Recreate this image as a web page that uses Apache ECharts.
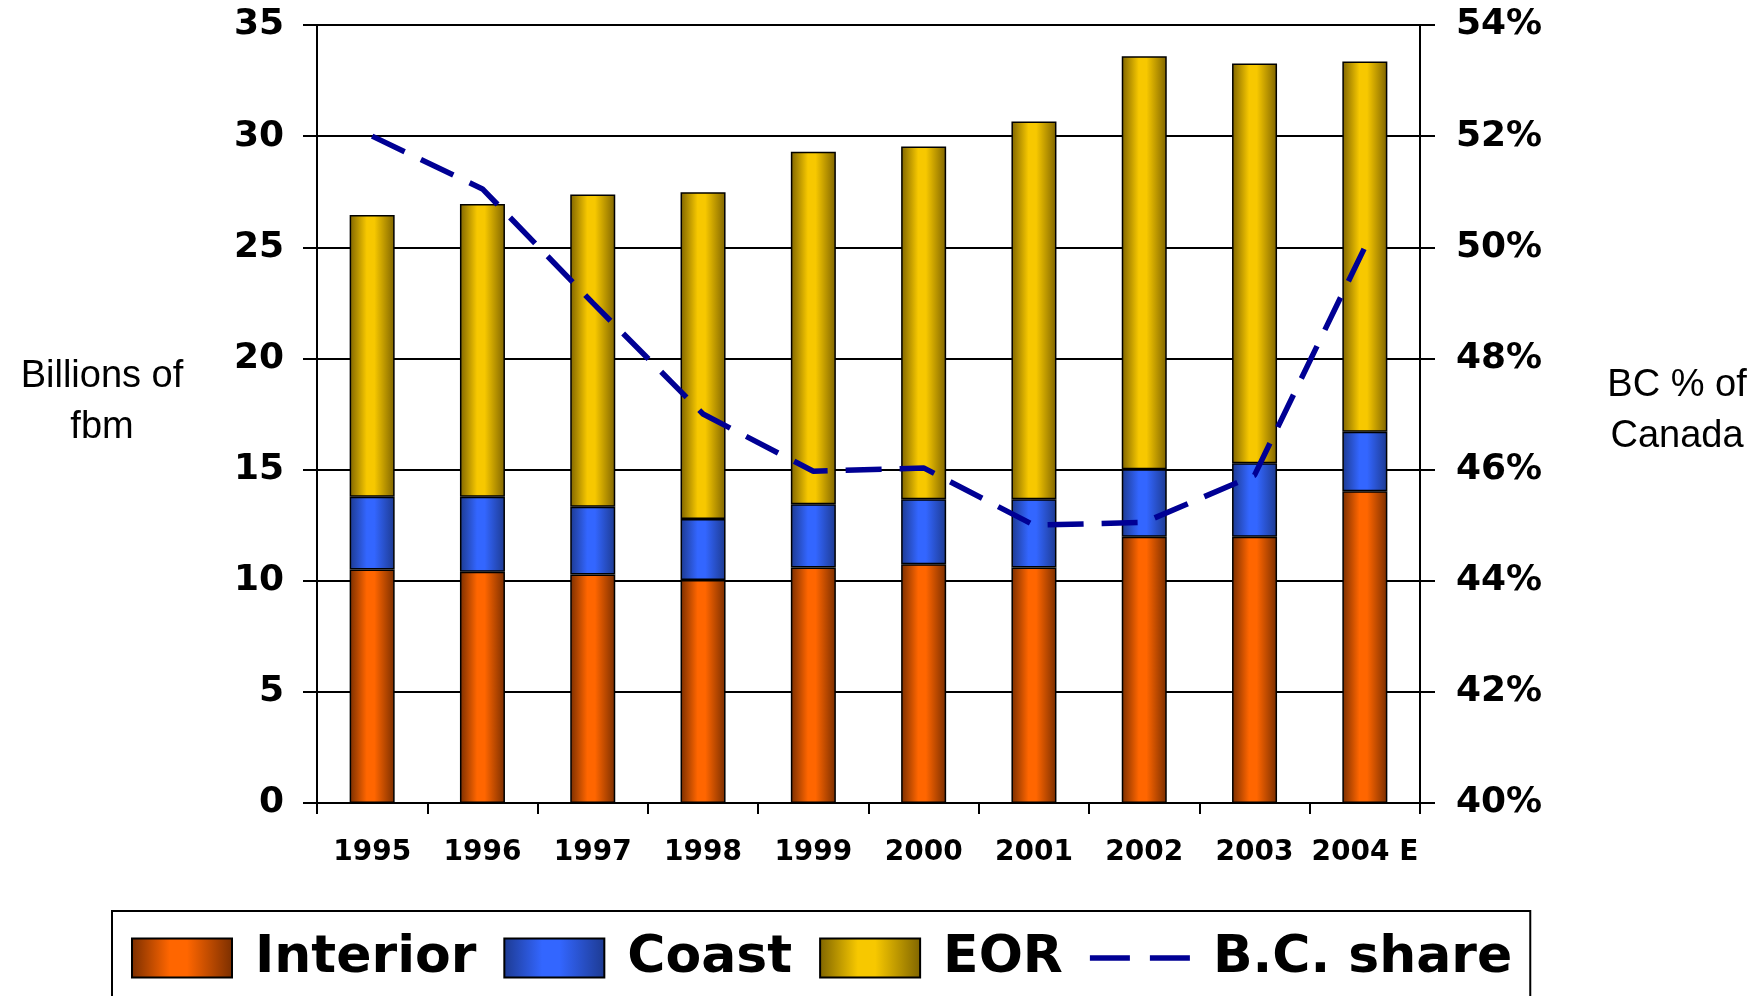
<!DOCTYPE html>
<html>
<head>
<meta charset="utf-8">
<title>B.C. lumber production</title>
<script src="https://cdn.jsdelivr.net/npm/echarts@6.0.0/dist/echarts.min.js"></script>
<style>
  html, body { margin: 0; padding: 0; overflow: hidden; background: #fff; }
  #chart { width: 1756px; height: 1040px; }
</style>
</head>
<body>
<div id="chart"></div>
<script>
// values (billions of fbm, BC share in %)
var years = ['1995', '1996', '1997', '1998', '1999', '2000', '2001', '2002', '2003', '2004 E'];
var interior = [10.5, 10.4, 10.28, 10.03, 10.59, 10.74, 10.59, 11.98, 11.98, 14.03];
var coast = [3.28, 3.38, 3.05, 2.75, 2.85, 2.92, 3.07, 3.03, 3.3, 2.67];
var eor = [12.67, 13.17, 14.04, 14.7, 15.86, 15.87, 17.0, 18.58, 17.99, 16.66];
var bcShare = [52.0, 51.05, 49.0, 47.0, 45.97, 46.03, 45.0, 45.05, 45.9, 50.0];

// dark edge / bright middle, like the old office-style bars
function shade(dark, bright) {
  return new echarts.graphic.LinearGradient(0, 0, 1, 0, [
    { offset: 0, color: dark },
    { offset: 0.38, color: bright },
    { offset: 0.55, color: bright },
    { offset: 1, color: dark }
  ]);
}

var boldFont = 'DejaVu Sans';
// two short dashes for the legend entry of the dashed line
var dashIcon = 'path://M0,0h36v5h-36z M54,0h36v5h-36z';

var chartDom = document.getElementById('chart');
var myChart = echarts.init(chartDom);
var option = {
  backgroundColor: '#fff',
  animation: false,
  title: [
    {
      text: 'Billions of\nfbm',
      left: 97,
      top: 346,
      textAlign: 'center',
      textStyle: { fontFamily: 'Liberation Sans', fontWeight: 'normal', fontSize: 38, lineHeight: 51, color: '#000' }
    },
    {
      text: 'BC % of\nCanada',
      left: 1672,
      top: 355,
      textAlign: 'center',
      textStyle: { fontFamily: 'Liberation Sans', fontWeight: 'normal', fontSize: 38, lineHeight: 51, color: '#000' }
    }
  ],
  grid: { left: 317, top: 25, width: 1103, height: 778 },
  legend: {
    left: 112,
    top: 911,
    padding: [21, 18, 40, 19],
    borderColor: '#000',
    borderWidth: 2,
    itemWidth: 100,
    itemHeight: 39,
    itemGap: 27,
    textStyle: { fontFamily: boldFont, fontWeight: 'bold', fontSize: 52, color: '#000', padding: [0, 0, 0, 18] },
    data: [
      { name: 'Interior', icon: 'rect' },
      { name: 'Coast', icon: 'rect' },
      { name: 'EOR', icon: 'rect' },
      { name: 'B.C. share', icon: dashIcon }
    ]
  },
  xAxis: {
    type: 'category',
    data: years,
    axisLine: { lineStyle: { color: '#000', width: 2 } },
    axisTick: { show: true, interval: 0, length: 11, lineStyle: { color: '#000', width: 2 } },
    axisLabel: { interval: 0, margin: 36, color: '#000', fontFamily: boldFont, fontWeight: 'bold', fontSize: 28 },
    splitLine: { show: false }
  },
  yAxis: [
    {
      type: 'value',
      min: 0,
      max: 35,
      interval: 5,
      axisLine: { show: true, lineStyle: { color: '#000', width: 2 } },
      axisTick: { show: true, length: 14, lineStyle: { color: '#000', width: 2 } },
      axisLabel: { margin: 33, color: '#000', fontFamily: boldFont, fontWeight: 'bold', fontSize: 36 },
      splitLine: { show: true, lineStyle: { color: '#000', width: 2 } }
    },
    {
      type: 'value',
      min: 40,
      max: 54,
      interval: 2,
      axisLine: { show: true, lineStyle: { color: '#000', width: 2 } },
      axisTick: { show: true, length: 15, lineStyle: { color: '#000', width: 2 } },
      axisLabel: { margin: 36, color: '#000', fontFamily: boldFont, fontWeight: 'bold', fontSize: 36, formatter: '{value}%' },
      splitLine: { show: false }
    }
  ],
  series: [
    {
      name: 'Interior',
      type: 'bar',
      stack: 'total',
      barWidth: 45,
      itemStyle: { color: shade('#7a2e00', '#ff6600'), borderColor: '#000', borderWidth: 1.5 },
      data: interior
    },
    {
      name: 'Coast',
      type: 'bar',
      stack: 'total',
      barWidth: 45,
      itemStyle: { color: shade('#1d3a90', '#3366ff'), borderColor: '#000', borderWidth: 1.5 },
      data: coast
    },
    {
      name: 'EOR',
      type: 'bar',
      stack: 'total',
      barWidth: 45,
      itemStyle: { color: shade('#7f6400', '#f7c800'), borderColor: '#000', borderWidth: 1.5 },
      data: eor
    },
    {
      name: 'B.C. share',
      type: 'line',
      yAxisIndex: 1,
      symbol: 'none',
      z: 5,
      itemStyle: { color: '#000094' },
      lineStyle: { color: '#000094', width: 5.5, type: [36, 18] },
      data: bcShare
    }
  ]
};

option && myChart.setOption(option);
</script>
</body>
</html>
